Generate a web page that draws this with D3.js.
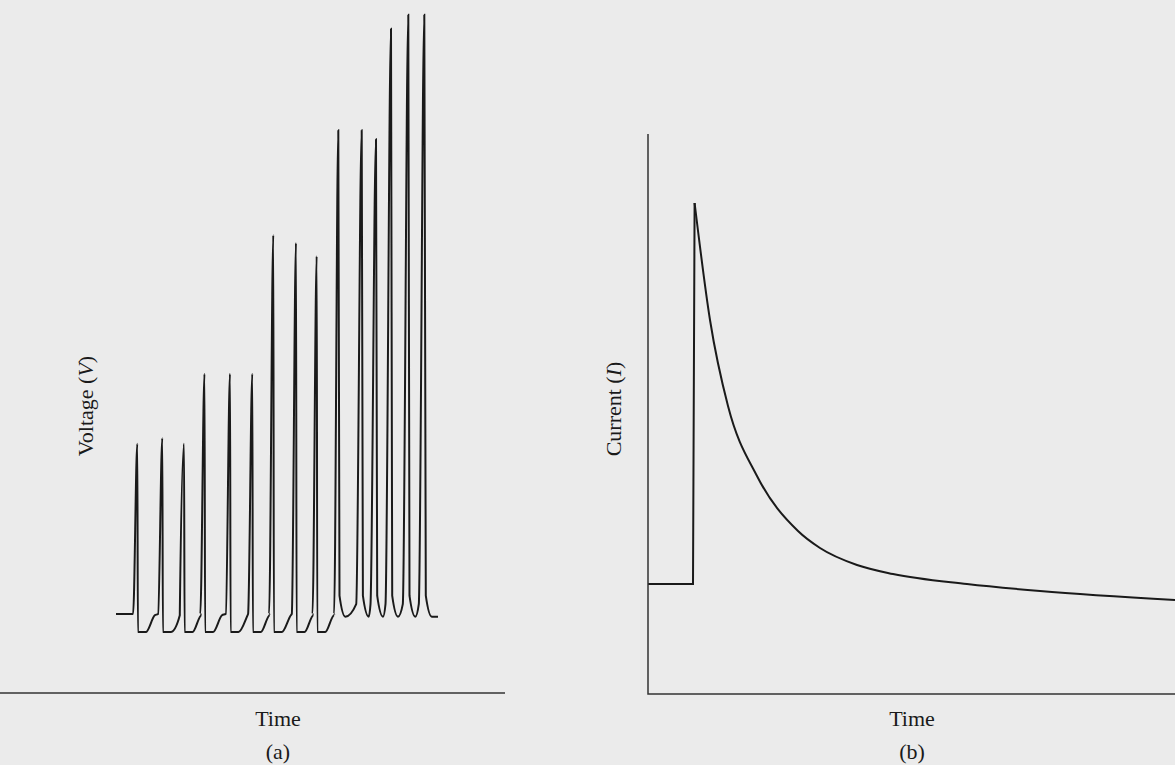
<!DOCTYPE html>
<html>
<head>
<meta charset="utf-8">
<script src="https://cdn.jsdelivr.net/npm/d3@7"></script>
<style>
  html, body { margin: 0; padding: 0; background: #ebebeb; }
  svg { display: block; }
</style>
</head>
<body>
<div id="chart"></div>
<script>
// Panel (a): spiking voltage trace (arbitrary units)
const spikeTimes = [3.23, 5.73, 7.9, 9.95, 12.5, 14.73, 16.83, 19.1, 21.17, 23.33, 25.67, 27.1, 28.6, 30.33, 31.93];
const spikePeaks = [35.6, 36.4, 35.6, 45.6, 45.6, 45.6, 65.4, 64.3, 62.4, 80.4, 80.4, 79.1, 94.9, 96.9, 96.9];
// trough after each spike: "ahp" = flat dip below rest, "u" = rounded trough
const spikeTroughs = ["ahp", "ahp", "ahp", "ahp", "ahp", "ahp", "ahp", "ahp", "ahp", "u", "u", "u", "u", "u", "u"];
const restVoltage = 11.3;
const ahpVoltage = 8.7;
const uVoltage = 10.9;
const traceStart = 1.1;
const traceEnd = 33.3;

// Panel (b): current transient (step, then decay)
const stepTimes = [0, 4.5, 4.5, 4.66];
const stepValues = [11, 11, 11, 49.1];
const decayTimes = [4.66, 6.2, 8.0, 10.9, 15.0, 17.2, 20.9, 24.5, 31.9, 39.2, 52.7];
const decayValues = [49.1, 37.4, 28.8, 21.8, 16.3, 14.6, 12.9, 12.0, 11.0, 10.3, 9.4];

const labelsA = { y: ["Voltage (", "V", ")"], x: "Time", tag: "(a)" };
const labelsB = { y: ["Current (", "I", ")"], x: "Time", tag: "(b)" };

const W = 1175, H = 765;
const font = "'Liberation Serif', 'DejaVu Serif', serif";
const ink = "#1a1a1a";

const svg = d3.select("#chart").append("svg")
    .attr("width", W)
    .attr("height", H);

svg.append("rect").attr("width", W).attr("height", H).attr("fill", "#ebebeb");

// ---------- panel (a) ----------
const xA = d3.scaleLinear().domain([0, 40]).range([105, 505]);
const yA = d3.scaleLinear().domain([0, 100]).range([693, -7]);

// build the trace from the spike table
const tracePts = [[traceStart, restVoltage]];
spikeTimes.forEach(function(tp, i) {
    const next = spikeTimes[i + 1];
    const prevType = i > 0 ? spikeTroughs[i - 1] : "ahp";
    if (prevType === "ahp") {
        tracePts.push([tp - 0.42, restVoltage]);
    }
    tracePts.push([tp, spikePeaks[i]]);
    if (spikeTroughs[i] === "ahp") {
        tracePts.push([tp + 0.06, ahpVoltage]);
        tracePts.push([tp + 0.85, ahpVoltage]);
        tracePts.push([tp + 1.75, restVoltage - 0.2]);
    } else if (next !== undefined) {
        tracePts.push([tp + 0.12, uVoltage + 3]);
        tracePts.push([tp + 0.7, uVoltage]);
        tracePts.push([next - 0.55, uVoltage + 1.8]);
    } else {
        tracePts.push([tp + 0.15, uVoltage + 3]);
        tracePts.push([tp + 0.75, uVoltage]);
        tracePts.push([traceEnd, uVoltage]);
    }
});

const lineA = d3.line()
    .x(d => xA(d[0]))
    .y(d => yA(d[1]))
    .curve(d3.curveMonotoneX);

const gA = svg.append("g");

gA.append("path")
    .datum(tracePts)
    .attr("fill", "none")
    .attr("stroke", ink)
    .attr("stroke-width", 2)
    .attr("stroke-linejoin", "miter")
    .attr("d", lineA);

// x axis line (no ticks)
gA.append("line")
    .attr("x1", 0).attr("x2", xA(40))
    .attr("y1", yA(0)).attr("y2", yA(0))
    .attr("stroke", "#333").attr("stroke-width", 1.5);

gA.append("text")
    .attr("transform", `translate(93,${yA(41)}) rotate(-90)`)
    .attr("text-anchor", "middle")
    .attr("font-family", font).attr("font-size", 22).attr("fill", ink)
    .selectAll("tspan").data(labelsA.y).join("tspan")
    .attr("font-style", (d, i) => i === 1 ? "italic" : "normal")
    .text(d => d);

gA.append("text")
    .attr("x", 278).attr("y", 726)
    .attr("text-anchor", "middle")
    .attr("font-family", font).attr("font-size", 22).attr("fill", ink)
    .text(labelsA.x);

gA.append("text")
    .attr("x", 278).attr("y", 759)
    .attr("text-anchor", "middle")
    .attr("font-family", font).attr("font-size", 22).attr("fill", ink)
    .text(labelsA.tag);

// ---------- panel (b) ----------
const xB = d3.scaleLinear().domain([0, 53]).range([648, 1178]);
const yB = d3.scaleLinear().domain([0, 56]).range([694, 134]);

const gB = svg.append("g");

const lineB = d3.line()
    .x(d => xB(d[0]))
    .y(d => yB(d[1]));

gB.append("path")
    .datum(stepTimes.map((t, i) => [t, stepValues[i]]))
    .attr("fill", "none")
    .attr("stroke", ink)
    .attr("stroke-width", 2)
    .attr("d", lineB);

gB.append("path")
    .datum(decayTimes.map((t, i) => [t, decayValues[i]]))
    .attr("fill", "none")
    .attr("stroke", ink)
    .attr("stroke-width", 2)
    .attr("d", lineB.curve(d3.curveMonotoneX));

gB.append("path")
    .attr("fill", "none")
    .attr("stroke", "#333")
    .attr("stroke-width", 1.5)
    .attr("d", `M${xB(0)},${yB(56)}V${yB(0)}H${xB(53)}`);

gB.append("text")
    .attr("transform", `translate(621,${yB(28.5)}) rotate(-90)`)
    .attr("text-anchor", "middle")
    .attr("font-family", font).attr("font-size", 22).attr("fill", ink)
    .selectAll("tspan").data(labelsB.y).join("tspan")
    .attr("font-style", (d, i) => i === 1 ? "italic" : "normal")
    .text(d => d);

gB.append("text")
    .attr("x", 912).attr("y", 726)
    .attr("text-anchor", "middle")
    .attr("font-family", font).attr("font-size", 22).attr("fill", ink)
    .text(labelsB.x);

gB.append("text")
    .attr("x", 912).attr("y", 759)
    .attr("text-anchor", "middle")
    .attr("font-family", font).attr("font-size", 22).attr("fill", ink)
    .text(labelsB.tag);
</script>
</body>
</html>
